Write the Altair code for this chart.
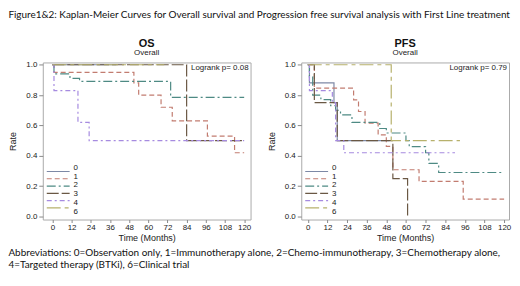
import altair as alt
import pandas as pd

groups = ["0", "1", "2", "3", "4", "6"]
colors = ["#7D89A6", "#C27C70", "#4E8A84", "#6A5844", "#A68BE0", "#B7B16C"]
dashes = [[1, 0], [5, 3], [9, 3, 2, 3], [12, 3], [5, 3, 2, 3], [14, 4, 4, 4]]

# OS (time in months, survival rate)
os_t = {
    "0": [0, 40],
    "1": [0, 1, 51, 54, 68, 75, 97, 114, 120],
    "2": [0, 1, 11, 17, 74, 120],
    "3": [0, 84, 120],
    "4": [0, 1, 16, 23, 120],
    "6": [0, 70],
}
os_s = {
    "0": [1.0, 1.0],
    "1": [1.0, 0.95, 0.88, 0.80, 0.72, 0.63, 0.53, 0.42, 0.42],
    "2": [1.0, 0.94, 0.91, 0.89, 0.785, 0.785],
    "3": [1.0, 0.5, 0.5],
    "4": [1.0, 0.83, 0.62, 0.5, 0.5],
    "6": [1.0, 1.0],
}
# PFS
pfs_t = {
    "0": [0, 1, 16, 18, 50],
    "1": [0, 4, 28, 31, 35, 43, 48, 52, 68, 95, 120],
    "2": [0, 1, 3, 8, 14, 17, 20, 27, 44, 48, 60, 62, 72, 74, 80, 120],
    "3": [0, 4, 18, 52, 61],
    "4": [0, 1, 15, 17, 22, 90],
    "6": [0, 51, 93],
}
pfs_s = {
    "0": [1.0, 0.88, 0.75, 0.5, 0.5],
    "1": [1.0, 0.846, 0.769, 0.692, 0.615, 0.538, 0.462, 0.308, 0.231, 0.115, 0.115],
    "2": [1.0, 0.92, 0.80, 0.77, 0.73, 0.70, 0.67, 0.62, 0.58, 0.55, 0.50, 0.46, 0.42, 0.35, 0.29, 0.29],
    "3": [1.0, 0.75, 0.5, 0.25, 0.0],
    "4": [1.0, 0.83, 0.75, 0.5, 0.42, 0.42],
    "6": [1.0, 0.5, 0.5],
}
panel_titles = ["OS", "PFS"]
pvals = ["0.08", "0.79"]
x_ticks = list(range(0, 121, 12))
y_ticks = [0.0, 0.2, 0.4, 0.6, 0.8, 1.0]

main_title = "Figure1&2: Kaplan-Meier Curves for Overall survival and Progression free survival analysis with First Line treatment"
abbrev = [
    "Abbreviations: 0=Observation only, 1=Immunotherapy alone, 2=Chemo-immunotherapy, 3=Chemotherapy alone,",
    "4=Targeted therapy (BTKi), 6=Clinical trial",
]

W, H = 209, 158
FONT = "Liberation Sans"
TFONT = "Lato"
TSIZE = 10.0


def to_df(tdict, sdict):
    rows = []
    for g in groups:
        for i, (t, s) in enumerate(zip(tdict[g], sdict[g])):
            rows.append({"group": g, "time": t, "rate": s, "order": i})
    return pd.DataFrame(rows)


color_scale = alt.Scale(domain=groups, range=colors)
dash_scale = alt.Scale(domain=groups, range=dashes)


def panel(tdict, sdict, title, pval, xdom):
    df = to_df(tdict, sdict)
    lines = alt.Chart(df).mark_line(interpolate="step-after", strokeWidth=1.2).encode(
        x=alt.X("time:Q", scale=alt.Scale(domain=xdom, nice=False, zero=False),
                axis=alt.Axis(values=x_ticks, title="Time (Months)", grid=False, domain=False,
                              tickSize=3, tickColor="#888", labelFontSize=8, titleFontSize=9,
                              labelFont=FONT, titleFont=FONT, titleFontWeight="normal",
                              labelColor="#222", titleColor="#222", titlePadding=2,
                              labelPadding=1)),
        y=alt.Y("rate:Q", scale=alt.Scale(domain=[-0.02, 1.015], nice=False, zero=False),
                axis=alt.Axis(values=y_ticks, format=".1f", title="Rate", grid=False, domain=False,
                              tickSize=4, tickColor="#888", labelFontSize=8, titleFontSize=9,
                              labelFont=FONT, titleFont=FONT, titleFontWeight="normal",
                              labelColor="#222", titleColor="#222", titlePadding=8)),
        color=alt.Color("group:N", scale=color_scale, legend=None),
        strokeDash=alt.StrokeDash("group:N", scale=dash_scale, legend=None),
        detail="group:N",
        order="order:Q",
    )
    leg_df = pd.DataFrame({"group": groups})
    leg_y = alt.Y("group:N", scale=alt.Scale(domain=groups, range=[106, 150], padding=0), axis=None)
    leg_rules = alt.Chart(leg_df).mark_rule(strokeWidth=1.2).encode(
        x=alt.value(4), x2=alt.value(27), y=leg_y,
        color=alt.Color("group:N", scale=color_scale, legend=None),
        strokeDash=alt.StrokeDash("group:N", scale=dash_scale, legend=None),
    )
    leg_text = alt.Chart(leg_df).mark_text(align="left", baseline="middle", fontSize=8, font=FONT,
                                           color="#222").encode(
        x=alt.value(31), y=leg_y, text="group:N")
    ptext = alt.Chart(pd.DataFrame({"p": [f"Logrank p=  {pval}"]})).mark_text(
        align="right", baseline="middle", fontSize=8, font=FONT, color="#222").encode(
        x=alt.value(W - 2), y=alt.value(6), text="p:N")
    return alt.layer(lines, leg_rules, leg_text, ptext).resolve_scale(y="independent").properties(
        width=W, height=H,
        title=alt.Title(title, subtitle="Overall", font=FONT, fontSize=11, fontWeight="bold",
                        subtitleFont=FONT, subtitleFontSize=8, subtitleColor="#222", color="#111",
                        anchor="middle", offset=4, subtitlePadding=0),
    )


left = panel(os_t, os_s, panel_titles[0], pvals[0], [-6, 124])
right = panel(pfs_t, pfs_s, panel_titles[1], pvals[1], [-4, 123])

inner = alt.hconcat(left, right, spacing=15).properties(
    title=alt.Title(abbrev, orient="bottom", anchor="start", font=TFONT, fontSize=TSIZE,
                    fontWeight="normal", color="#111", lineHeight=12, offset=5)
)
chart = alt.vconcat(inner).properties(
    title=alt.Title(main_title, anchor="start", font=TFONT, fontSize=TSIZE, fontWeight="normal",
                    color="#111", offset=18),
    padding={"left": 0, "top": 0, "right": 0, "bottom": 0},
).configure_view(stroke="#aaa", strokeWidth=1).configure_concat(spacing=0)

chart.save("out.html", embed_options={"renderer": "svg", "actions": False})
